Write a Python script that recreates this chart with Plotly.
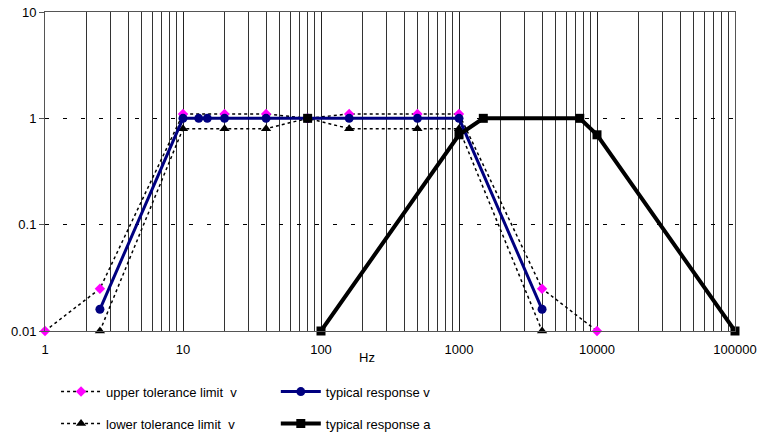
import plotly.graph_objects as go

# ---- data ----
freq_upper = [1, 2.5, 10, 20, 40, 80, 160, 500, 1000, 4000, 10000]
upper_v = [0.01, 0.025, 1.1, 1.1, 1.1, 1.0, 1.1, 1.1, 1.1, 0.025, 0.01]

freq_lower = [2.5, 10, 20, 40, 80, 160, 500, 1000, 4000]
lower_v = [0.01, 0.8, 0.8, 0.8, 1.0, 0.8, 0.8, 0.8, 0.01]

freq_typ_v = [2.5, 10, 13, 15, 20, 40, 80, 160, 500, 1000, 4000]
typ_v = [0.016, 1, 1, 1, 1, 1, 1, 1, 1, 1, 0.016]

freq_typ_a = [80, None, 100, 1000, 1500, 7500, 10000, 100000]
typ_a = [1, None, 0.01, 0.7, 1, 1, 0.7, 0.01]

x_ticks = [1, 10, 100, 1000, 10000, 100000]
x_labels = ["1", "10", "100", "1000", "10000", "100000"]
y_ticks = [0.01, 0.1, 1, 10]
y_labels = ["0.01", "0.1", "1", "10"]

FONT = "Liberation Sans, Arial, sans-serif"

fig = go.Figure()
fig.add_trace(go.Scatter(
    x=freq_upper, y=upper_v, name="upper tolerance limit  v",
    mode="lines+markers", line=dict(color="black", width=1.5, dash="dot"),
    marker=dict(symbol="diamond", color="#ff00ff", size=8), cliponaxis=False,
    legend="legend", legendgroup="u"))
fig.add_trace(go.Scatter(
    x=freq_lower, y=lower_v, name="lower tolerance limit  v",
    mode="lines+markers", line=dict(color="black", width=1.5, dash="dot"),
    marker=dict(symbol="triangle-up", color="black", size=9), cliponaxis=False,
    legend="legend", legendgroup="l"))
fig.add_trace(go.Scatter(
    x=freq_typ_v, y=typ_v, name="typical response v",
    mode="lines+markers", line=dict(color="#000080", width=3),
    marker=dict(symbol="circle", color="#000080", size=9), cliponaxis=False,
    legend="legend2", legendgroup="tv"))
fig.add_trace(go.Scatter(
    x=freq_typ_a, y=typ_a, name="typical response a",
    mode="lines+markers", connectgaps=False, line=dict(color="black", width=4),
    marker=dict(symbol="square", color="black", size=9), cliponaxis=False,
    legend="legend2", legendgroup="ta"))

fig.update_layout(
    width=766, height=434,
    margin=dict(l=45, r=31, t=12, b=103, autoexpand=False),
    paper_bgcolor="white", plot_bgcolor="white",
    font=dict(family=FONT, size=13, color="black"),
    showlegend=True,
    legend=dict(x=0.016, xanchor="left", y=-0.143, yanchor="top",
                orientation="v", tracegroupgap=12, bgcolor="rgba(0,0,0,0)",
                font=dict(family=FONT, size=13, color="black"),
                itemwidth=40),
    legend2=dict(x=0.3345, xanchor="left", y=-0.143, yanchor="top",
                 orientation="v", tracegroupgap=12, bgcolor="rgba(0,0,0,0)",
                 font=dict(family=FONT, size=13, color="black"),
                 itemwidth=40),
    annotations=[dict(text="Hz", xref="paper", yref="paper",
                      x=(367 - 45) / 690, y=(331 - 357) / 319,
                      showarrow=False, xanchor="center", yanchor="middle",
                      font=dict(family=FONT, size=13, color="black"))],
)

fig.update_xaxes(
    type="log", range=[0, 5],
    tickvals=x_ticks, ticktext=x_labels, ticks="",
    showgrid=True, gridcolor="#222222", gridwidth=1,
    minor=dict(dtick="D1", showgrid=True, gridcolor="#333333", gridwidth=1, ticks=""),
    showline=True, linecolor="#555555", linewidth=1, mirror=True,
    ticklabelstandoff=6, zeroline=False,
)
fig.update_yaxes(
    type="log", range=[-2, 1],
    tickvals=y_ticks, ticktext=y_labels, ticks="outside", ticklen=5,
    tickcolor="#555555",
    showgrid=True, gridcolor="black", gridwidth=1, griddash="4px,14px",
    showline=True, linecolor="#555555", linewidth=1, mirror=True,
    zeroline=False,
)

fig.write_html("out.html", config={"displayModeBar": False},
               post_script="document.body.style.margin='0';")
